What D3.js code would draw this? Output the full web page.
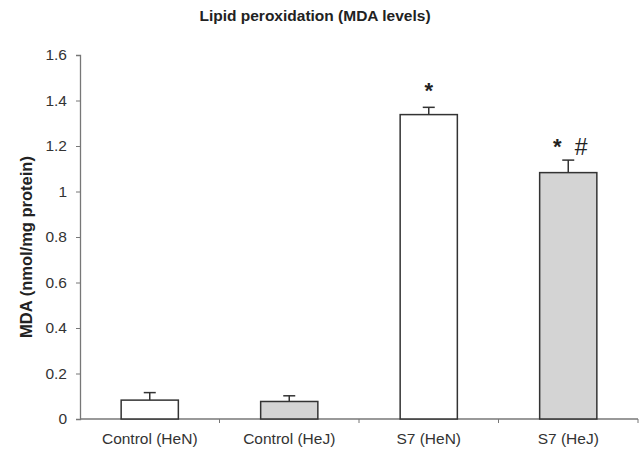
<!DOCTYPE html>
<html><head><meta charset="utf-8">
<script src="https://cdn.jsdelivr.net/npm/d3@7"></script>
<style>body{margin:0;background:#fff;} text{font-family:"Liberation Sans",Arial,sans-serif;}</style>
</head><body><svg id="c" width="644" height="453"></svg>
<script>
const categories = ["Control (HeN)", "Control (HeJ)", "S7 (HeN)", "S7 (HeJ)"];
const values = [0.083, 0.077, 1.338, 1.083];
const errors = [0.033, 0.025, 0.032, 0.055];
const fills = ["#ffffff", "#d4d4d4", "#ffffff", "#d4d4d4"];
const marks = ["", "", "*", "* #"];
const yTicks = [0, 0.2, 0.4, 0.6, 0.8, 1, 1.2, 1.4, 1.6];

(function () {
const svg = d3.select("#c");
const mL = 80, mR = 638, mT = 55, mB = 419;
const x = d3.scaleBand().domain(categories).range([mL, mR]).paddingInner(0.59).paddingOuter(0.295);
const y = d3.scaleLinear().domain([0, 1.6]).range([mB, mT]);

svg.append("text").attr("x", 315).attr("y", 21).attr("text-anchor", "middle")
  .attr("font-size", 15.5).attr("font-weight", "bold").attr("fill", "#222").text("Lipid peroxidation (MDA levels)");

const ya = svg.append("g").attr("transform", `translate(${mL},0)`)
  .call(d3.axisLeft(y).tickValues(yTicks).tickFormat(d3.format("~g")).tickSize(4).tickPadding(9));
ya.select(".domain").attr("stroke", "#777").attr("stroke-width", 1.3);
ya.selectAll(".tick line").attr("stroke", "#777");
ya.selectAll(".tick text").attr("font-size", 15.5).attr("fill", "#333").attr("font-family", "Liberation Sans, Arial, sans-serif");

svg.append("text").attr("transform", `translate(32,247) rotate(-90)`)
  .attr("text-anchor", "middle").attr("font-size", 16.5).attr("font-weight", "bold").attr("fill", "#222")
  .text("MDA (nmol/mg protein)");

svg.append("line").attr("x1", mL).attr("x2", mR).attr("y1", mB).attr("y2", mB)
  .attr("stroke", "#777").attr("stroke-width", 1.3);
const step = x.step();
categories.forEach((c, i) => {
  const bx = mL + step * (i + 1);
  svg.append("line").attr("x1", bx).attr("x2", bx).attr("y1", mB).attr("y2", mB + 4).attr("stroke", "#777");
  svg.append("text").attr("x", x(c) + x.bandwidth() / 2).attr("y", mB + 25).attr("text-anchor", "middle")
    .attr("font-size", 15.5).attr("fill", "#333").text(c);
});

const g = svg.append("g");
categories.forEach((c, i) => {
  const cx = x(c) + x.bandwidth() / 2;
  const et = y(values[i] + errors[i]);
  g.append("line").attr("x1", cx).attr("x2", cx).attr("y1", y(values[i])).attr("y2", et).attr("stroke", "#333").attr("stroke-width", 1.5);
  g.append("line").attr("x1", cx - 6).attr("x2", cx + 6).attr("y1", et).attr("y2", et).attr("stroke", "#333").attr("stroke-width", 1.5);
  g.append("rect").attr("x", x(c)).attr("width", x.bandwidth()).attr("y", y(values[i]))
    .attr("height", y(0) - y(values[i])).attr("fill", fills[i]).attr("stroke", "#333").attr("stroke-width", 1.5);
  if (marks[i] === "*") {
    g.append("text").attr("x", cx).attr("y", et - 9).attr("text-anchor", "middle").attr("font-size", 22).attr("font-weight", "bold").attr("fill", "#222").text("*");
  } else if (marks[i] === "* #") {
    g.append("text").attr("x", cx - 11).attr("y", et - 6).attr("text-anchor", "middle").attr("font-size", 22).attr("font-weight", "bold").attr("fill", "#222").text("*");
    g.append("text").attr("x", cx + 13).attr("y", et - 5).attr("text-anchor", "middle").attr("font-size", 23).attr("fill", "#222").text("#");
  }
});
})();
</script></body></html>
